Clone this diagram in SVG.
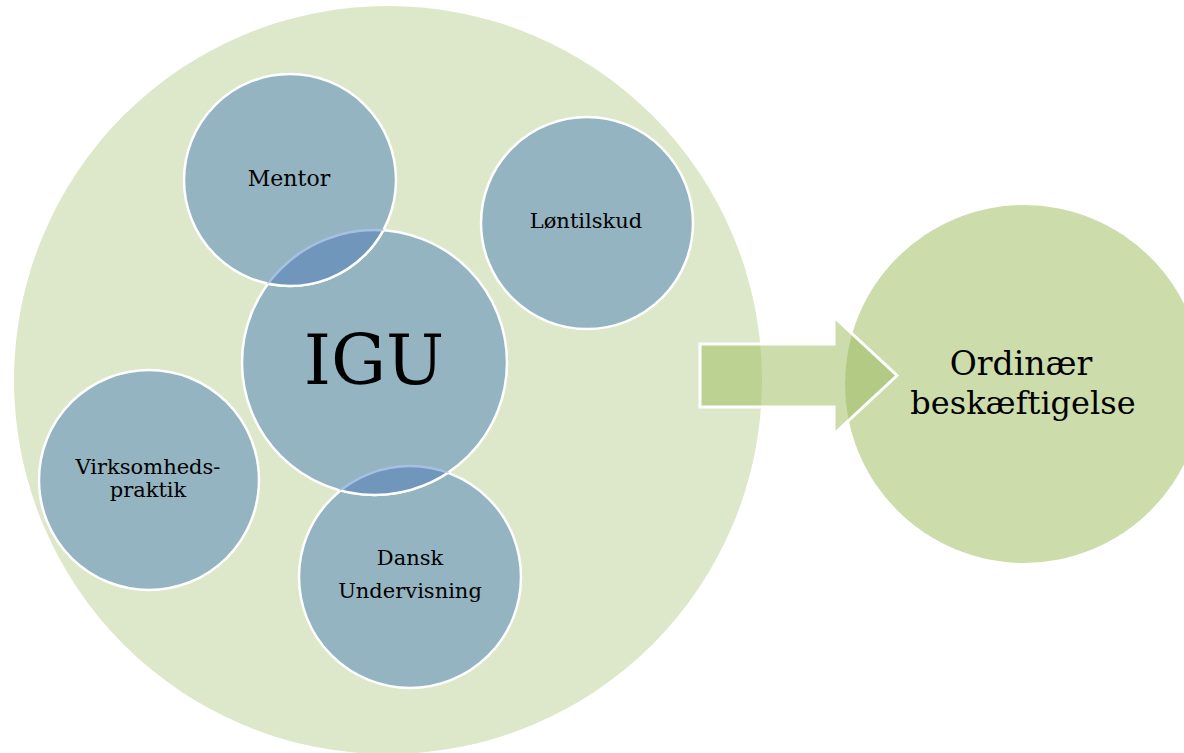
<svg xmlns="http://www.w3.org/2000/svg" width="1184" height="753" viewBox="0 0 1184 753">
<style>
.sub{fill:#94b4c1;stroke:#ffffff;stroke-width:2.5}
.lens{fill:#7097bb;stroke:none}
.faint{fill:none;stroke:#a6bfe3;stroke-width:2.5}
.wline{fill:none;stroke:#ffffff;stroke-width:2.5}
.t{font-family:"DejaVu Serif","Liberation Serif",serif;fill:#000000;text-anchor:middle}
</style>
<defs>
<clipPath id="cBig"><circle cx="388" cy="380" r="374"/></clipPath>
<clipPath id="cRight"><circle cx="1024" cy="384" r="179"/></clipPath>
<clipPath id="cMentor"><circle cx="290" cy="180" r="106"/></clipPath>
<clipPath id="cIGU"><circle cx="374.5" cy="362.5" r="132.5"/></clipPath>
<clipPath id="cDansk"><circle cx="410" cy="577" r="111"/></clipPath>
</defs>
<rect width="1184" height="753" fill="#ffffff"/>
<g id="outer">
<circle cx="388" cy="380" r="374" fill="#dde7c9"/>
</g>
<g id="ordinaer">
<circle cx="1024" cy="384" r="179" fill="#cddcab"/>
<text class="t" x="1021" y="375" font-size="33">Ordinær</text>
<text class="t" x="1023" y="414" font-size="32">beskæftigelse</text>
</g>
<g id="connectors">
<polygon points="700,344 834,344 834,317 897,375.5 834,434 834,407 700,407" fill="#cddcab"/>
<polygon points="700,344 834,344 834,317 897,375.5 834,434 834,407 700,407" fill="#bcd293" clip-path="url(#cBig)"/>
<polygon points="700,344 834,344 834,317 897,375.5 834,434 834,407 700,407" fill="#b3ca84" clip-path="url(#cRight)"/>
<polygon points="700,344 834,344 834,317 897,375.5 834,434 834,407 700,407" fill="none" stroke="#ffffff" stroke-width="3"/>
</g>
<g id="loentilskud">
<circle class="sub" cx="587" cy="223" r="106"/>
<text class="t" x="586" y="228" font-size="21">Løntilskud</text>
</g>
<g id="virksomhedspraktik">
<circle class="sub" cx="149" cy="480" r="110"/>
<text class="t" x="148" y="474" font-size="21">Virksomheds-</text>
<text class="t" x="148" y="497" font-size="21">praktik</text>
</g>
<g id="dansk">
<circle class="sub" cx="410" cy="577" r="111"/>
</g>
<g id="igu">
<circle class="sub" cx="374.5" cy="362.5" r="132.5"/>
</g>
<g id="mentor">
<circle class="sub" cx="290" cy="180" r="106"/>
</g>
<g id="overlaps">
<circle class="lens" cx="374.5" cy="362.5" r="132.5" clip-path="url(#cMentor)"/>
<circle class="faint" cx="374.5" cy="362.5" r="132.5" clip-path="url(#cMentor)"/>
<circle class="wline" cx="290" cy="180" r="106" clip-path="url(#cIGU)"/>
<circle class="lens" cx="410" cy="577" r="111" clip-path="url(#cIGU)"/>
<circle class="faint" cx="410" cy="577" r="111" clip-path="url(#cIGU)"/>
<circle class="wline" cx="374.5" cy="362.5" r="132.5" clip-path="url(#cDansk)"/>
</g>
<g id="labels">
<text class="t" x="289" y="186" font-size="22">Mentor</text>
<text class="t" x="374" y="384" font-size="69">IGU</text>
<text class="t" x="410" y="565" font-size="21">Dansk</text>
<text class="t" x="410" y="598" font-size="21">Undervisning</text>
</g>
</svg>
